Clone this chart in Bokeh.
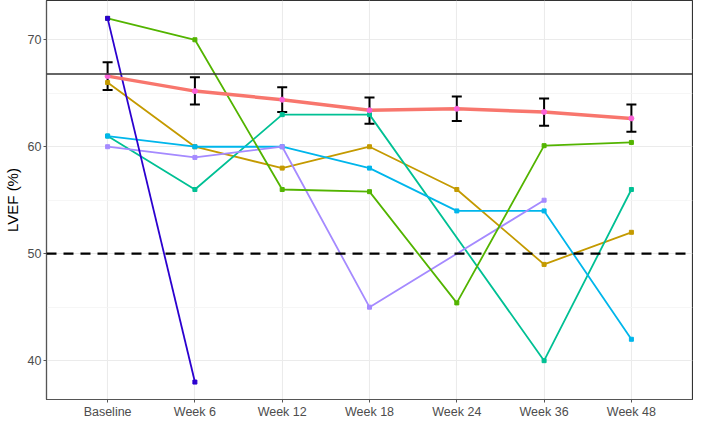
from bokeh.plotting import figure
from bokeh.models import Range1d, FactorRange, Span, Whisker, TeeHead, ColumnDataSource, FixedTicker
from bokeh.embed import file_html
from bokeh.resources import INLINE

weeks = ["Baseline", "Week 6", "Week 12", "Week 18", "Week 24", "Week 36", "Week 48"]

# mean LVEF with error bar bounds
mean_vals = [66.6, 65.2, 64.4, 63.4, 63.55, 63.25, 62.65]
mean_upper = [67.9, 66.5, 65.55, 64.6, 64.7, 64.5, 63.95]
mean_lower = [65.3, 63.95, 63.25, 62.15, 62.4, 61.95, 61.4]

# individual patients (None = missing visit)
pat_green = [72, 70, 56, 55.8, 45.4, 60.1, 60.4]
pat_blue = [72, 38, None, None, None, None, None]
pat_gold = [66, 60, 58, 60, 56, 49, 52]
pat_teal = [61, 56, 63, 63, None, 40, 56]
pat_cyan = [61, 60, 60, 58, 54, 54, 42]
pat_lavender = [60, 59, 60, 45, None, 55, None]

normal_ref = 66.8
threshold = 50
y_ticks = [40, 50, 60, 70]

p = figure(width=693, height=421, output_backend="svg", toolbar_location=None,
           x_range=FactorRange(factors=weeks, range_padding=0.2, range_padding_units="absolute"),
           y_range=Range1d(36.37, 73.67),
           min_border_left=30, min_border_right=1, min_border_top=0, min_border_bottom=0)
p.background_fill_color = "white"
p.border_fill_color = "white"
p.outline_line_color = "#333333"
p.outline_line_width = 1.2

# grid
p.xgrid.grid_line_color = "#EBEBEB"
p.xgrid.grid_line_width = 1.1
p.ygrid.grid_line_color = "#EBEBEB"
p.ygrid.grid_line_width = 1.1
p.ygrid.minor_grid_line_color = "#F4F4F4"
p.ygrid.minor_grid_line_width = 0.8
p.yaxis.ticker = FixedTicker(ticks=y_ticks, minor_ticks=[45, 55, 65])

for ax in (p.xaxis[0], p.yaxis[0]):
    ax.axis_line_color = "#555555"
    ax.axis_line_width = 1.1
    ax.major_tick_line_color = "#555555"
    ax.major_tick_out = 3
    ax.major_tick_in = 0
    ax.minor_tick_out = 0
    ax.minor_tick_in = 0
    ax.major_label_text_font = "Liberation Sans"
    ax.major_label_text_font_size = "12.5px"
    ax.major_label_text_color = "#4D4D4D"
    ax.major_label_standoff = 2

p.yaxis.axis_label = "LVEF (%)"
p.yaxis.axis_label_text_font = "Liberation Sans"
p.yaxis.axis_label_text_font_size = "15px"
p.yaxis.axis_label_text_font_style = "normal"
p.yaxis.axis_label_text_color = "black"
p.yaxis.axis_label_standoff = 4
p.xaxis.group_text_font_size = "0px"

# reference lines
p.add_layout(Span(location=normal_ref, dimension="width", line_color="#333333", line_width=1.3))
p.add_layout(Span(location=threshold, dimension="width", line_color="black", line_width=2.2, line_dash="10 7"))

series = [
    (pat_gold, "#C49A00"),
    (pat_teal, "#00C094"),
    (pat_cyan, "#00B6EB"),
    (pat_lavender, "#A58AFF"),
    (pat_green, "#53B400"),
    (pat_blue, "#2B00CF"),
]
for vals, col in series:
    xs = [w for w, v in zip(weeks, vals) if v is not None]
    ys = [v for v in vals if v is not None]
    p.line(xs, ys, line_color=col, line_width=1.8)
    p.scatter(xs, ys, marker="square", size=4, fill_color=col, line_color=col)

# mean line
p.line(weeks, mean_vals, line_color="#F8766D", line_width=3.5)
p.scatter(weeks, mean_vals, size=5, fill_color="#FB61D7", line_color="#FB61D7")

src = ColumnDataSource(dict(x=weeks, upper=mean_upper, lower=mean_lower))
p.add_layout(Whisker(base="x", upper="upper", lower="lower", source=src,
                     line_color="black", line_width=2,
                     upper_head=TeeHead(size=10, line_color="black", line_width=2),
                     lower_head=TeeHead(size=10, line_color="black", line_width=2)))

open("out.html", "w").write(file_html(p, INLINE))
